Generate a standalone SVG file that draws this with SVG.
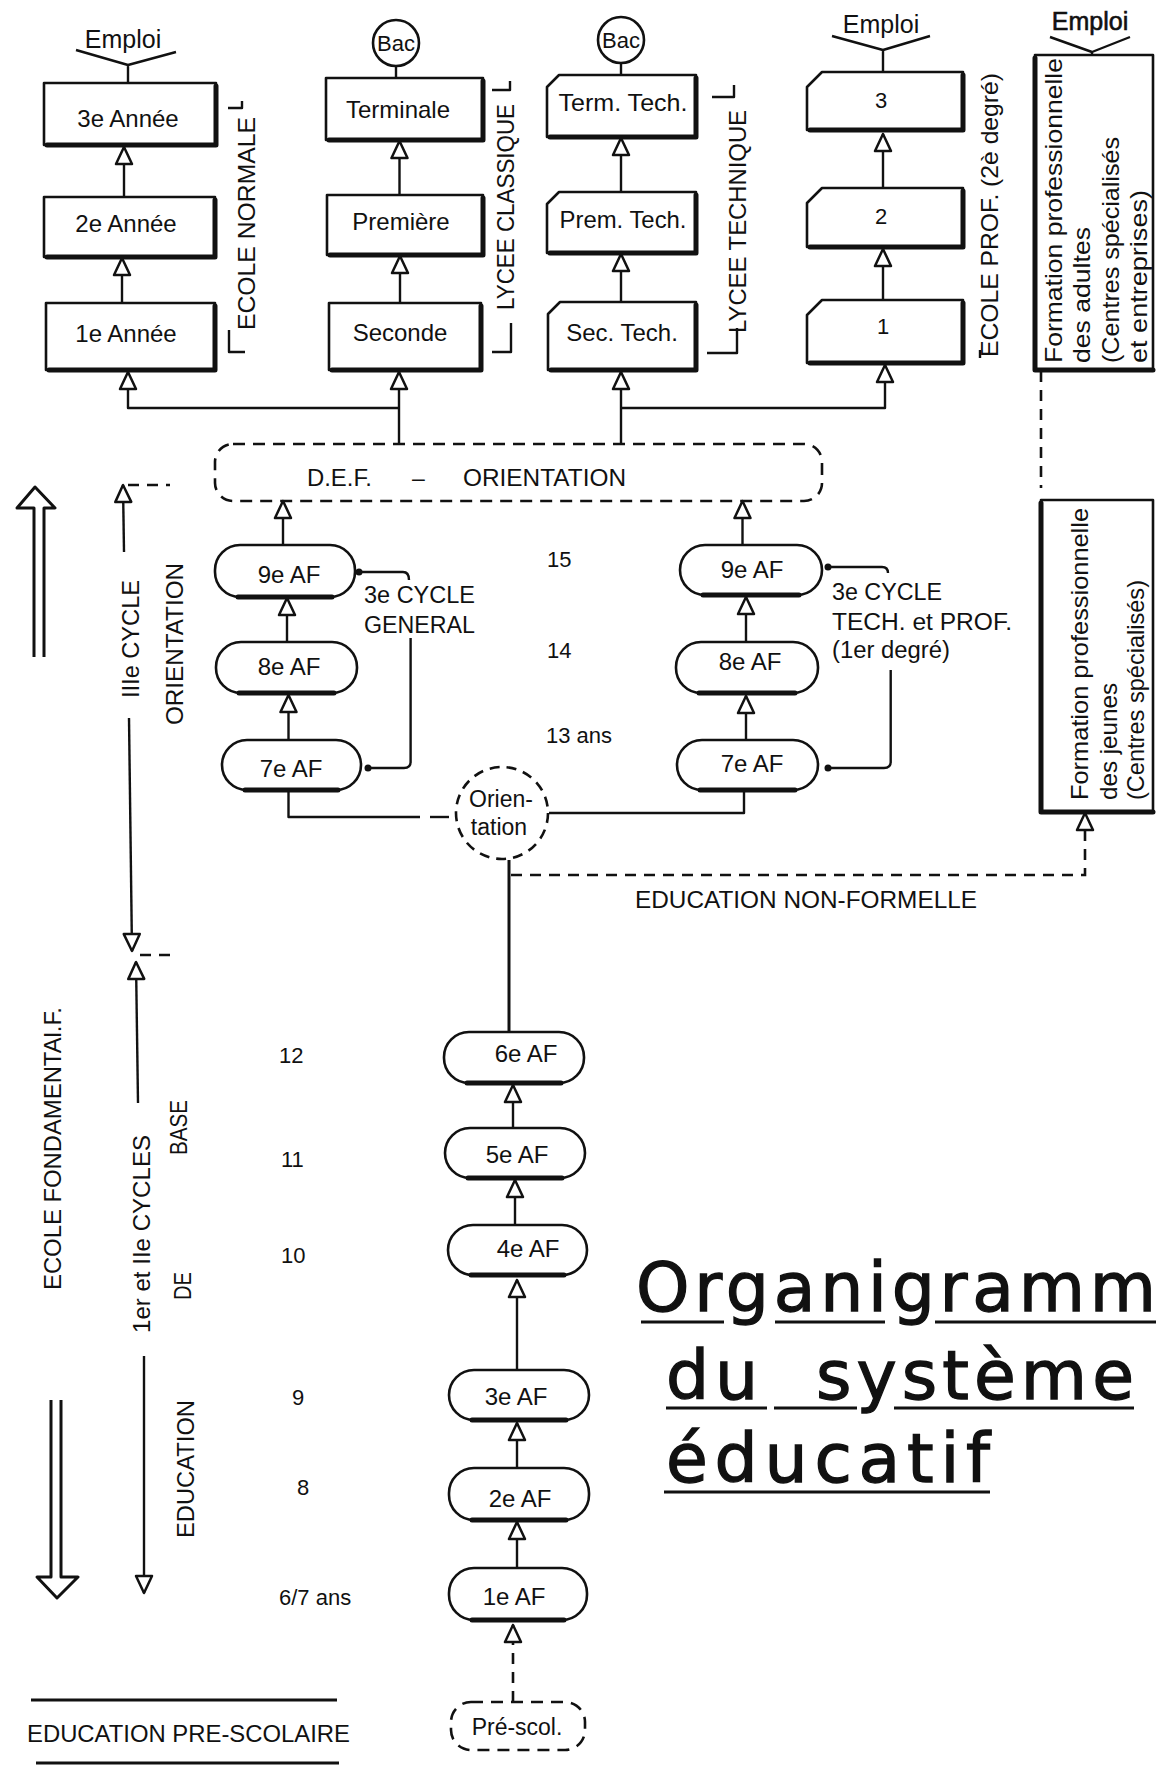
<svg xmlns="http://www.w3.org/2000/svg" width="1156" height="1765" viewBox="0 0 1156 1765">
<defs>
<style>
.bx{fill:#fff;stroke:#111;stroke-width:2.6;stroke-linejoin:round}
.sh{fill:none;stroke:#111;stroke-width:5;stroke-linecap:round;stroke-linejoin:round}
.ln{fill:none;stroke:#111;stroke-width:2.4;stroke-linejoin:round}
.th{fill:none;stroke:#111;stroke-width:3;stroke-linejoin:round}
.ds{fill:none;stroke:#111;stroke-width:2.6;stroke-dasharray:11 8}
.dbox{fill:none;stroke:#111;stroke-width:2.6;stroke-dasharray:12 8}
.t{font-family:"Liberation Sans",Arial,sans-serif;fill:#111}
.c{text-anchor:middle}
.f24{font-size:24px}
.f23{font-size:23px}
.f22{font-size:22px}
.ttl{font-family:"DejaVu Sans","Liberation Sans",sans-serif;font-size:68px;fill:#111;stroke:#111;stroke-width:1.3}
.ul{fill:none;stroke:#111;stroke-width:3.2}
.dot{fill:#111}
</style>
<marker id="ah" viewBox="-21 -10 23 20" refX="0" refY="0" markerWidth="23" markerHeight="20" markerUnits="userSpaceOnUse" orient="auto">
<path d="M0,0 L-17,-8 L-17,8 Z" fill="#fff" stroke="#111" stroke-width="2.5" stroke-linejoin="round"/>
</marker>
</defs>
<rect width="1156" height="1765" fill="#fff"/>

<g id="connectors">
<path class="ln" d="M76,50 L128,65 L176,52 M128,65 L128,83"/>
<path class="ln" d="M832,36 L883,50 L930,36 M883,50 L883,72"/>
<path class="ln" d="M1050,37 L1092,52 L1130,37 M1092,52 L1092,55"/>
<path class="ln" d="M396,66 L396,78"/>
<path class="ln" d="M621,63 L621,75"/>
<path class="ln" marker-end="url(#ah)" d="M124,197 L124,147"/>
<path class="ln" marker-end="url(#ah)" d="M122,303 L122,258"/>
<path class="ln" marker-end="url(#ah)" d="M399,408 L128,408 L128,372"/>
<path class="ln" marker-end="url(#ah)" d="M399.5,195 L399.5,141"/>
<path class="ln" marker-end="url(#ah)" d="M400,303 L400,256"/>
<path class="ln" marker-end="url(#ah)" d="M399,443 L399,372"/>
<path class="ln" marker-end="url(#ah)" d="M621,192 L621,138"/>
<path class="ln" marker-end="url(#ah)" d="M621,302 L621,254"/>
<path class="ln" marker-end="url(#ah)" d="M621,443 L621,372"/>
<path class="ln" marker-end="url(#ah)" d="M883,188 L883,134"/>
<path class="ln" marker-end="url(#ah)" d="M883,300 L883,249"/>
<path class="ln" marker-end="url(#ah)" d="M621,408 L885,408 L885,365"/>
<path class="ln" marker-end="url(#ah)" d="M283,545 L283,501"/>
<path class="ln" marker-end="url(#ah)" d="M742.5,545 L742.5,501"/>
<path class="ln" marker-end="url(#ah)" d="M287,642 L287,598"/>
<path class="ln" marker-end="url(#ah)" d="M288.5,740 L288.5,695"/>
<path class="ln" marker-end="url(#ah)" d="M746,642 L746,597"/>
<path class="ln" marker-end="url(#ah)" d="M746,740 L746,696"/>
<path class="ln" d="M359,572 L403,572 Q409,572 409,580"/>
<path class="ln" d="M410.6,638 L410.6,762 Q410.6,768 404,768 L368,768"/>
<circle class="dot" cx="359" cy="572" r="3.5"/>
<circle class="dot" cx="368" cy="768" r="3.5"/>
<path class="ln" d="M828,567 L882,567 Q888,567 888,573"/>
<path class="ln" d="M890.7,670 L890.7,762 Q890.7,768 884,768 L828,768"/>
<circle class="dot" cx="828" cy="567" r="3.5"/>
<circle class="dot" cx="828" cy="768" r="3.5"/>
<path class="ln" d="M288.5,790 L288.5,817 L420,817"/>
<path class="ln" d="M430,817 L449,817"/>
<path class="ln" d="M744,790 L744,813 L549,813"/>
<path class="th" d="M509,860 L509,1032"/>
<path class="ds" marker-end="url(#ah)" d="M511,875 L1085,875 L1085,813"/>
<path class="ds" d="M1041,371 L1041,488"/>
<path class="ln" marker-end="url(#ah)" d="M513,1128 L513,1085"/>
<path class="ln" marker-end="url(#ah)" d="M515,1225 L515,1180"/>
<path class="ln" marker-end="url(#ah)" d="M517,1370 L517,1280"/>
<path class="ln" marker-end="url(#ah)" d="M517,1468 L517,1423"/>
<path class="ln" marker-end="url(#ah)" d="M517,1568 L517,1522"/>
<path class="ds" marker-end="url(#ah)" d="M513,1702 L513,1625"/>
</g>

<g id="top-emploi">
<text class="t c" font-size="25" x="123" y="48">Emploi</text>
<text class="t c" font-size="25" x="881" y="33">Emploi</text>
<text class="t c" font-size="25" x="1090" y="30" stroke="#111" stroke-width="0.6">Emploi</text>
</g>

<g id="bac1"><circle class="bx" cx="396" cy="43" r="23"/><text class="t c f22" x="396" y="51">Bac</text></g>
<g id="bac2"><circle class="bx" cx="621" cy="40" r="23"/><text class="t c f22" x="621" y="48">Bac</text></g>

<g id="en3"><rect class="bx" x="44" y="83" width="172" height="62"/><path class="sh" d="M216,86 L216,145 L47,145"/><text class="t c f24" x="128" y="127">3e Année</text></g>
<g id="en2"><rect class="bx" x="44" y="197" width="171" height="60"/><path class="sh" d="M215,200 L215,257 L47,257"/><text class="t c f24" x="126" y="232">2e Année</text></g>
<g id="en1"><rect class="bx" x="46" y="303" width="169" height="67"/><path class="sh" d="M215,306 L215,370 L49,370"/><text class="t c f24" x="126" y="342">1e Année</text></g>
<g id="en-label">
<text class="t c f24" transform="translate(255,223.5) rotate(-90)" textLength="213" lengthAdjust="spacingAndGlyphs">ECOLE NORMALE</text>
<path class="ln" d="M228,108 L242,108 L242,101 M229,330 L229,352 L245,352"/>
</g>

<g id="lc-term"><rect class="bx" x="326" y="78" width="157" height="62"/><path class="sh" d="M483,81 L483,140 L329,140"/><text class="t c f24" x="398" y="118">Terminale</text></g>
<g id="lc-prem"><rect class="bx" x="327" y="195" width="156" height="60"/><path class="sh" d="M483,198 L483,255 L330,255"/><text class="t c f24" x="401" y="230">Première</text></g>
<g id="lc-sec"><rect class="bx" x="329" y="303" width="152" height="67"/><path class="sh" d="M481,306 L481,370 L332,370"/><text class="t c f24" x="400" y="341">Seconde</text></g>
<g id="lc-label">
<text class="t c f24" transform="translate(514,207) rotate(-90)" textLength="206" lengthAdjust="spacingAndGlyphs">LYCEE CLASSIQUE</text>
<path class="ln" d="M492,90 L510,90 L510,81 M511,323 L511,352 L492,352"/>
</g>

<g id="lt-term"><path class="bx" d="M547,87 L559,75 L696,75 L696,137 L547,137 Z"/><path class="sh" d="M696,78 L696,137 L550,137"/><text class="t c f24" x="623" y="111" textLength="129" lengthAdjust="spacingAndGlyphs">Term. Tech.</text></g>
<g id="lt-prem"><path class="bx" d="M547,204 L559,192 L696,192 L696,253 L547,253 Z"/><path class="sh" d="M696,195 L696,253 L550,253"/><text class="t c f24" x="623" y="228" textLength="127" lengthAdjust="spacingAndGlyphs">Prem. Tech.</text></g>
<g id="lt-sec"><path class="bx" d="M548,314 L560,302 L696,302 L696,370 L548,370 Z"/><path class="sh" d="M696,305 L696,370 L551,370"/><text class="t c f24" x="622" y="341">Sec. Tech.</text></g>
<g id="lt-label">
<text class="t c f24" transform="translate(746,221.5) rotate(-90)" textLength="223" lengthAdjust="spacingAndGlyphs">LYCEE TECHNIQUE</text>
<path class="ln" d="M712,97 L734,97 L734,85 M737,328 L737,353 L707,353"/>
</g>

<g id="ep3"><path class="bx" d="M807,87 L822,72 L963,72 L963,130 L807,130 Z"/><path class="sh" d="M963,75 L963,130 L810,130"/><text class="t c f22" x="881" y="108">3</text></g>
<g id="ep2"><path class="bx" d="M807,203 L822,188 L963,188 L963,247 L807,247 Z"/><path class="sh" d="M963,191 L963,247 L810,247"/><text class="t c f22" x="881" y="224">2</text></g>
<g id="ep1"><path class="bx" d="M807,315 L822,300 L963,300 L963,363 L807,363 Z"/><path class="sh" d="M963,303 L963,363 L810,363"/><text class="t c f22" x="883" y="334">1</text></g>
<g id="ep-label">
<text class="t c f24" transform="translate(998,215) rotate(-90)" textLength="284" lengthAdjust="spacingAndGlyphs">ECOLE PROF. (2è degré)</text>
<path class="ln" d="M980,350 L980,358"/>
</g>

<g id="fp-adultes">
<rect class="bx" x="1035" y="55" width="118" height="315"/>
<path class="sh" d="M1035,58 L1035,370 L1153,370"/>
<text class="t f24" transform="translate(1062,363) rotate(-90)" textLength="305" lengthAdjust="spacingAndGlyphs">Formation professionnelle</text>
<text class="t f24" transform="translate(1090,363) rotate(-90)" textLength="136" lengthAdjust="spacingAndGlyphs">des adultes</text>
<text class="t f24" transform="translate(1119,363) rotate(-90)" textLength="226" lengthAdjust="spacingAndGlyphs">(Centres spécialisés</text>
<text class="t f24" transform="translate(1147,363) rotate(-90)" textLength="173" lengthAdjust="spacingAndGlyphs">et entreprises)</text>
</g>

<g id="fp-jeunes">
<rect class="bx" x="1041" y="500" width="112" height="312"/>
<path class="sh" d="M1041,503 L1041,812 L1153,812"/>
<text class="t f24" transform="translate(1088,800) rotate(-90)" textLength="292" lengthAdjust="spacingAndGlyphs">Formation professionnelle</text>
<text class="t f24" transform="translate(1117,800) rotate(-90)" textLength="117" lengthAdjust="spacingAndGlyphs">des jeunes</text>
<text class="t f24" transform="translate(1144,800) rotate(-90)" textLength="220" lengthAdjust="spacingAndGlyphs">(Centres spécialisés)</text>
</g>

<g id="def">
<rect class="dbox" x="215" y="444" width="607" height="57" rx="18"/>
<text class="t f23" y="486"><tspan x="307" textLength="65" lengthAdjust="spacingAndGlyphs">D.E.F.</tspan><tspan x="412">–</tspan><tspan x="463" textLength="163" lengthAdjust="spacingAndGlyphs">ORIENTATION</tspan></text>
</g>

<g id="g9"><rect class="bx" x="215" y="545" width="140" height="52" rx="25"/><path class="sh" d="M238,597 L332,597"/><text class="t c f24" x="289" y="583">9e AF</text></g>
<g id="g8"><rect class="bx" x="216" y="642" width="141" height="51" rx="25"/><path class="sh" d="M239,693 L334,693"/><text class="t c f24" x="289" y="675">8e AF</text></g>
<g id="g7"><rect class="bx" x="222" y="740" width="139" height="50" rx="25"/><path class="sh" d="M245,790 L338,790"/><text class="t c f24" x="291" y="777">7e AF</text></g>
<g id="lbl-general">
<text class="t f23" x="364" y="603" textLength="111" lengthAdjust="spacingAndGlyphs">3e CYCLE</text>
<text class="t f23" x="364" y="633" textLength="111" lengthAdjust="spacingAndGlyphs">GENERAL</text>
</g>

<g id="t9"><rect class="bx" x="680" y="545" width="142" height="50" rx="25"/><path class="sh" d="M703,595 L799,595"/><text class="t c f24" x="752" y="578">9e AF</text></g>
<g id="t8"><rect class="bx" x="676" y="642" width="142" height="51" rx="25"/><path class="sh" d="M699,693 L795,693"/><text class="t c f24" x="750" y="670">8e AF</text></g>
<g id="t7"><rect class="bx" x="677" y="740" width="141" height="50" rx="25"/><path class="sh" d="M700,790 L795,790"/><text class="t c f24" x="752" y="772">7e AF</text></g>
<g id="lbl-tech">
<text class="t f23" x="832" y="600" textLength="110" lengthAdjust="spacingAndGlyphs">3e CYCLE</text>
<text class="t f23" x="832" y="630" textLength="180" lengthAdjust="spacingAndGlyphs">TECH. et PROF.</text>
<text class="t f23" x="832" y="658" textLength="118" lengthAdjust="spacingAndGlyphs">(1er degré)</text>
</g>

<g id="orientation">
<circle cx="502" cy="813" r="46" fill="#fff" stroke="#111" stroke-width="2.6" stroke-dasharray="10 7"/>
<text class="t c f23" x="501" y="807">Orien-</text>
<text class="t c f23" x="499" y="835">tation</text>
</g>

<g id="nonformelle"><text class="t c f23" x="806" y="908" textLength="342" lengthAdjust="spacingAndGlyphs">EDUCATION NON-FORMELLE</text></g>

<g id="ages">
<text class="t f22" x="547" y="567">15</text>
<text class="t f22" x="547" y="658">14</text>
<text class="t f22" x="546" y="743">13 ans</text>
<text class="t f22" x="279" y="1063">12</text>
<text class="t f22" x="281" y="1167">11</text>
<text class="t f22" x="281" y="1263">10</text>
<text class="t f22" x="292" y="1405">9</text>
<text class="t f22" x="297" y="1495">8</text>
<text class="t f22" x="279" y="1605">6/7 ans</text>
</g>

<g id="af6"><rect class="bx" x="444" y="1032" width="140" height="51" rx="25"/><path class="sh" d="M467,1083 L561,1083"/><text class="t c f24" x="526" y="1062">6e AF</text></g>
<g id="af5"><rect class="bx" x="445" y="1128" width="140" height="50" rx="25"/><path class="sh" d="M468,1178 L562,1178"/><text class="t c f24" x="517" y="1163">5e AF</text></g>
<g id="af4"><rect class="bx" x="448" y="1225" width="139" height="50" rx="25"/><path class="sh" d="M471,1275 L564,1275"/><text class="t c f24" x="528" y="1257">4e AF</text></g>
<g id="af3"><rect class="bx" x="449" y="1370" width="140" height="50" rx="25"/><path class="sh" d="M472,1420 L566,1420"/><text class="t c f24" x="516" y="1405">3e AF</text></g>
<g id="af2"><rect class="bx" x="449" y="1468" width="140" height="52" rx="25"/><path class="sh" d="M472,1520 L566,1520"/><text class="t c f24" x="520" y="1507">2e AF</text></g>
<g id="af1"><rect class="bx" x="449" y="1568" width="138" height="52" rx="25"/><path class="sh" d="M472,1620 L564,1620"/><text class="t c f24" x="514" y="1605">1e AF</text></g>
<g id="prescol"><rect class="dbox" x="451" y="1702" width="134" height="48" rx="20" fill="#fff"/><text class="t c f23" x="517" y="1735">Pré-scol.</text></g>

<g id="left-labels">
<path class="th" d="M34,657 L34,508 L17,508 L35,487 L55,508 L44,508 L44,657"/>
<path class="th" d="M51,1400 L51,1577 L37,1577 L57,1598 L78,1577 L61,1577 L61,1400"/>
<path class="ln" marker-end="url(#ah)" d="M124,552 L123,485"/>
<path class="ds" d="M128,485 L170,485"/>
<path class="ln" marker-end="url(#ah)" d="M129,718 L132,951"/>
<path class="ds" d="M140,955 L178,955"/>
<path class="ln" marker-end="url(#ah)" d="M138,1103 L136,962"/>
<path class="ln" marker-end="url(#ah)" d="M144,1356 L144,1593"/>
<text class="t c f24" transform="translate(139,639) rotate(-90)" textLength="118" lengthAdjust="spacingAndGlyphs">IIIe CYCLE</text>
<text class="t c f24" transform="translate(183,644) rotate(-90)" textLength="162" lengthAdjust="spacingAndGlyphs">ORIENTATION</text>
<text class="t c f24" transform="translate(61,1148.5) rotate(-90)" textLength="283" lengthAdjust="spacingAndGlyphs">ECOLE FONDAMENTAl.F.</text>
<text class="t c f24" transform="translate(150,1234) rotate(-90)" textLength="198" lengthAdjust="spacingAndGlyphs">1er et IIe CYCLES</text>
<text class="t c f23" transform="translate(187,1127.5) rotate(-90)" textLength="55" lengthAdjust="spacingAndGlyphs">BASE</text>
<text class="t c f23" transform="translate(191,1286) rotate(-90)" textLength="28" lengthAdjust="spacingAndGlyphs">DE</text>
<text class="t c f23" transform="translate(194,1469) rotate(-90)" textLength="138" lengthAdjust="spacingAndGlyphs">EDUCATION</text>
</g>

<g id="prescolaire">
<path class="th" d="M31,1700 L337,1700 M36,1763 L339,1763"/>
<text class="t f23" x="27" y="1742" textLength="323" lengthAdjust="spacingAndGlyphs">EDUCATION PRE-SCOLAIRE</text>
</g>

<g id="title">
<text class="ttl" x="636" y="1311" textLength="520" lengthAdjust="spacing">Organigramm</text>
<path class="ul" d="M641,1322 L724,1322 M775,1322 L885,1322 M935,1322 L1156,1322"/>
<text class="ttl" y="1399"><tspan x="666" textLength="92" lengthAdjust="spacing">du</tspan><tspan x="816" textLength="318" lengthAdjust="spacing">système</tspan></text>
<path class="ul" d="M666,1408 L767,1408 M774,1408 L857,1408 M894,1408 L1134,1408"/>
<text class="ttl" x="666" y="1482" textLength="324" lengthAdjust="spacing">éducatif</text>
<path class="ul" d="M664,1492 L990,1492"/>
</g>
</svg>
